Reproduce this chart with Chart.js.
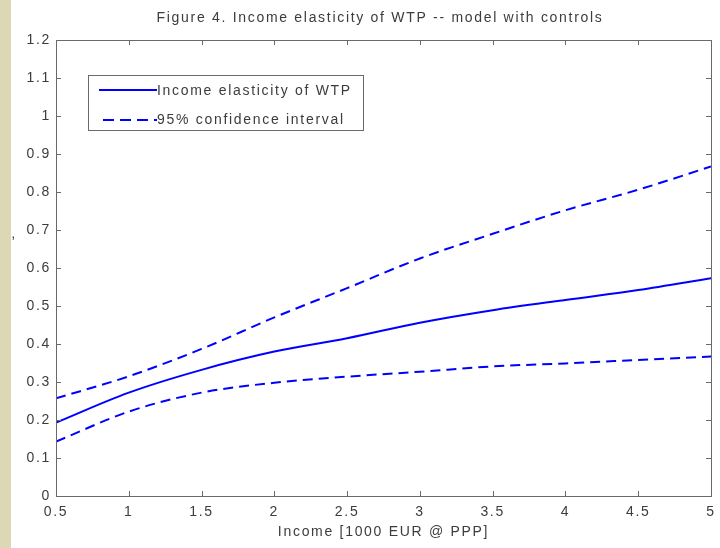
<!DOCTYPE html>
<html><head><meta charset="utf-8">
<script src="https://cdn.jsdelivr.net/npm/chart.js@4/dist/chart.umd.min.js"></script>
<style>
html,body{margin:0;padding:0;background:#fff;}
#wrap{position:relative;width:720px;height:548px;background:linear-gradient(to right,#dcd8b5 0,#dcd8b5 11px,#fff 11px);}
canvas{display:block}
</style></head><body>
<div id="wrap"><canvas id="c" width="720" height="548"></canvas></div>
<script>
const incomes    = [0.5, 1, 1.5, 2, 2.5, 3, 3.5, 4, 4.5, 5];
const elasticity = [0.193, 0.272, 0.332, 0.380, 0.415, 0.456, 0.489, 0.516, 0.542, 0.573];
const upperCI    = [0.257, 0.315, 0.387, 0.470, 0.547, 0.625, 0.690, 0.752, 0.806, 0.867];
const lowerCI    = [0.143, 0.222, 0.272, 0.298, 0.314, 0.327, 0.341, 0.349, 0.358, 0.367];
const xTicks = [0.5, 1, 1.5, 2, 2.5, 3, 3.5, 4, 4.5, 5];
const yTicks = [0, 0.1, 0.2, 0.3, 0.4, 0.5, 0.6, 0.7, 0.8, 0.9, 1, 1.1, 1.2];
const titleText = 'Figure 4. Income elasticity of WTP -- model with controls';
const xLabel = 'Income [1000 EUR @ PPP]';
const yLabel = ',';
const legendLabels = ['Income elasticity of WTP', '95% confidence interval'];

const BLUE = '#0000ff';
const AXIS = '#6a6a6a';
const TEXT = '#3c3c3c';
const FONT = 'Liberation Sans, Arial, sans-serif';
const SPACING = '1.7px';

const AREA = { left: 56, right: 711, top: 40, bottom: 496 };

Chart.defaults.font.family = FONT;
Chart.defaults.color = TEXT;

const toPts = arr => incomes.map((x, i) => ({x: x, y: arr[i]}));

const spacingPlugin = {
  id: 'spacing',
  beforeUpdate(chart) { chart.ctx.letterSpacing = SPACING; },
  beforeDraw(chart) { chart.ctx.letterSpacing = SPACING; }
};

const framePlugin = {
  id: 'frame',
  afterDraw(chart) {
    const ctx = chart.ctx;
    const a = chart.chartArea;
    const xs = chart.scales.x, ys = chart.scales.y;
    ctx.save();
    ctx.strokeStyle = AXIS;
    ctx.lineWidth = 1;
    ctx.strokeRect(Math.round(a.left) + 0.5, Math.round(a.top) + 0.5,
                   Math.round(a.right - a.left), Math.round(a.bottom - a.top));
    const L = 5;
    ctx.beginPath();
    xTicks.forEach(v => {
      const px = Math.round(xs.getPixelForValue(v)) + 0.5;
      ctx.moveTo(px, a.bottom); ctx.lineTo(px, a.bottom - L);
      ctx.moveTo(px, a.top); ctx.lineTo(px, a.top + L);
    });
    yTicks.forEach(v => {
      const py = Math.round(ys.getPixelForValue(v)) + 0.5;
      ctx.moveTo(a.left, py); ctx.lineTo(a.left + L, py);
      ctx.moveTo(a.right, py); ctx.lineTo(a.right - L, py);
    });
    ctx.stroke();

    // title, centred over the plot area
    ctx.fillStyle = TEXT;
    ctx.letterSpacing = SPACING;
    ctx.font = '14px ' + FONT;
    ctx.textBaseline = 'middle';
    ctx.textAlign = 'center';
    ctx.fillText(titleText, 380, 18);

    // legend box
    const bx = 88, by = 75, bw = 275, bh = 55;
    ctx.fillStyle = '#fff';
    ctx.fillRect(bx, by, bw, bh);
    ctx.strokeStyle = AXIS;
    ctx.strokeRect(bx + 0.5, by + 0.5, bw, bh);
    ctx.strokeStyle = BLUE;
    ctx.lineWidth = 2;
    ctx.beginPath(); ctx.moveTo(99, 90); ctx.lineTo(157, 90); ctx.stroke();
    ctx.setLineDash([11, 6]);
    ctx.beginPath(); ctx.moveTo(103, 120); ctx.lineTo(157, 120); ctx.stroke();
    ctx.setLineDash([]);
    ctx.fillStyle = TEXT;
    ctx.textAlign = 'left';
    ctx.fillText(legendLabels[0], 157, 91);
    ctx.fillText(legendLabels[1], 157, 120);

    // y-axis label mark
    ctx.textAlign = 'center';
    ctx.fillText(yLabel, 14, 234);
    ctx.restore();
  }
};

const layoutVals = { yW: 56, xH: 52, padR: 9, padT: 40 };

const chart = new Chart(document.getElementById('c'), {
  type: 'line',
  data: {
    datasets: [
      { label: legendLabels[0], data: toPts(elasticity), borderColor: BLUE, borderWidth: 2,
        pointRadius: 0, cubicInterpolationMode: 'monotone', fill: false },
      { label: legendLabels[1], data: toPts(upperCI), borderColor: BLUE, borderWidth: 2,
        borderDash: [10, 6], pointRadius: 0, cubicInterpolationMode: 'monotone', fill: false },
      { label: legendLabels[1] + ' (lower)', data: toPts(lowerCI), borderColor: BLUE, borderWidth: 2,
        borderDash: [10, 6], pointRadius: 0, cubicInterpolationMode: 'monotone', fill: false }
    ]
  },
  options: {
    responsive: false,
    animation: false,
    devicePixelRatio: 1,
    layout: { padding: { left: 0, right: layoutVals.padR, top: layoutVals.padT, bottom: 0 } },
    plugins: {
      legend: { display: false },
      tooltip: { enabled: false },
      title: { display: false }
    },
    scales: {
      x: {
        type: 'linear', min: 0.5, max: 5,
        afterBuildTicks: s => { s.ticks = xTicks.map(v => ({ value: v })); },
        afterFit: s => { s.height = layoutVals.xH; s.paddingLeft = 0; s.paddingRight = 0; },
        grid: { display: false, drawTicks: false },
        border: { display: false },
        ticks: { padding: 8, color: TEXT, font: { size: 14 }, maxRotation: 0, autoSkip: false,
                 callback: v => String(Math.round(v * 10) / 10) },
        title: { display: true, text: xLabel, color: TEXT, font: { size: 14, lineHeight: 1.2 },
                 padding: { top: 0, bottom: 7 } }
      },
      y: {
        type: 'linear', min: 0, max: 1.2,
        afterBuildTicks: s => { s.ticks = yTicks.map(v => ({ value: v })); },
        afterFit: s => { s.width = layoutVals.yW; s.paddingTop = 0; s.paddingBottom = 0; },
        grid: { display: false, drawTicks: false },
        border: { display: false },
        ticks: { padding: 5, color: TEXT, font: { size: 14 }, autoSkip: false,
                 callback: v => String(Math.round(v * 10) / 10) }
      }
    }
  },
  plugins: [spacingPlugin, framePlugin]
});

for (let i = 0; i < 3; i++) {
  const a = chart.chartArea;
  const dR = a.right - AREA.right, dL = a.left - AREA.left;
  const dT = a.top - AREA.top, dB = a.bottom - AREA.bottom;
  if (Math.abs(dR) < 0.3 && Math.abs(dL) < 0.3 && Math.abs(dT) < 0.3 && Math.abs(dB) < 0.3) break;
  layoutVals.padR += dR;
  layoutVals.yW -= dL;
  layoutVals.padT -= dT;
  layoutVals.xH += dB;
  chart.options.layout.padding.right = layoutVals.padR;
  chart.options.layout.padding.top = layoutVals.padT;
  chart.update();
}
</script>
</body></html>
